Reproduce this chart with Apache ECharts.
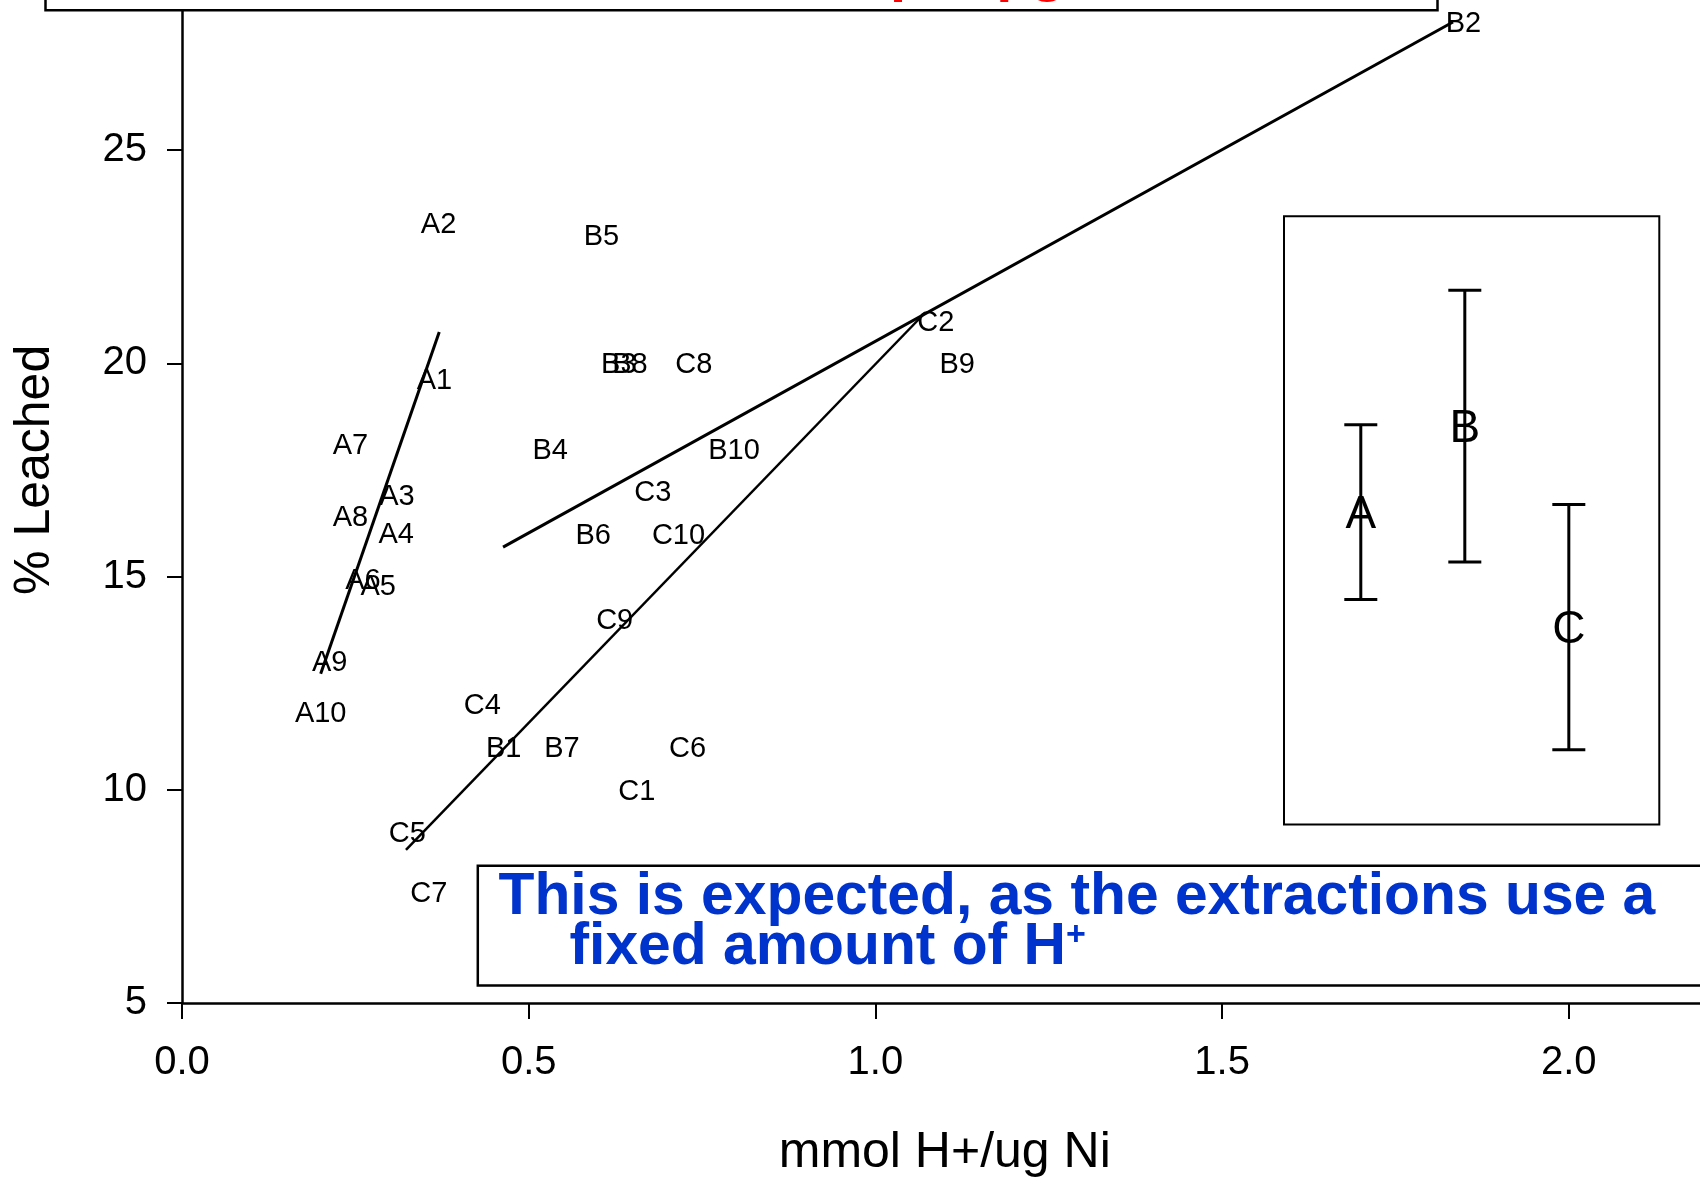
<!DOCTYPE html>
<html><head><meta charset="utf-8">
<script src="https://cdn.jsdelivr.net/npm/echarts/dist/echarts.min.js"></script>
<style>html,body{margin:0;padding:0;background:#fff}#c{width:1700px;height:1179px}</style>
</head><body><div id="c"></div>
<script>
// ---- data ----
const namesA = ['A1','A2','A3','A4','A5','A6','A7','A8','A9','A10'];
const xA = [0.364, 0.370, 0.310, 0.309, 0.283, 0.261, 0.243, 0.243, 0.213, 0.200];
const yA = [19.62, 23.30, 16.90, 16.03, 14.80, 14.95, 18.10, 16.42, 13.01, 11.83];

const namesB = ['B1','B2','B3','B4','B5','B6','B7','B8','B9','B10'];
const xB = [0.464, 1.848, 0.630, 0.531, 0.605, 0.593, 0.548, 0.646, 1.118, 0.796];
const yB = [11.0, 28.0, 20.0, 18.0, 23.0, 16.0, 11.0, 20.0, 20.0, 18.0];

const namesC = ['C1','C2','C3','C4','C5','C6','C7','C8','C9','C10'];
const xC = [0.656, 1.087, 0.679, 0.433, 0.325, 0.729, 0.356, 0.738, 0.624, 0.716];
const yC = [10.0, 21.0, 17.0, 12.0, 9.0, 11.0, 7.6, 20.0, 14.0, 16.0];

// regression line end points (x, y)
const fitA = [[0.200, 12.72], [0.371, 20.73]];
const fitB = [[0.463, 15.69], [1.833, 28.00]];
const fitC = [[0.323, 8.59], [1.072, 21.19]];

// inset: group means with error bars
const insetGroups = ['A', 'B', 'C'];
const insetX = [1.70, 1.85, 2.00];
const insetMean = [16.51, 18.53, 13.82];
const insetLow = [14.46, 15.34, 10.94];
const insetHigh = [18.56, 21.71, 16.69];

const xTickLabels = ['0.0', '0.5', '1.0', '1.5', '2.0'];
const yTickLabels = ['5', '10', '15', '20', '25', '30'];

// ---- chart ----
const FONT = '"Liberation Sans", Arial, Helvetica, sans-serif';
const textSeries = (names, xs, ys, size, z) => ({
  type: 'custom', silent: true, z: z,
  data: names.map((n, i) => [xs[i], ys[i], i]),
  encode: { x: 0, y: 1 },
  renderItem: function (params, api) {
    const p = api.coord([api.value(0), api.value(1)]);
    return { type: 'text', x: p[0], y: p[1] + size * 0.07,
      style: { text: names[api.value(2)], fill: '#000', fontSize: size, fontFamily: FONT,
               align: 'center', verticalAlign: 'middle' } };
  }
});
const lineSeries = (d, w) => ({
  type: 'line', data: d, symbol: 'none', silent: true, z: 4,
  lineStyle: { color: '#000', width: w }
});

const chart = echarts.init(document.getElementById('c'), null, { renderer: 'canvas' });
chart.setOption({
  animation: false,
  backgroundColor: '#fff',
  grid: { left: 182, top: -63.25, width: 1525.5, height: 1066.25,
          containLabel: false, outerBoundsMode: 'none' },
  xAxis: {
    type: 'value', min: 0, max: 2.2, interval: 0.5,
    name: 'mmol H+/ug Ni', nameLocation: 'middle', nameGap: 125,
    nameTextStyle: { fontSize: 50, fontFamily: FONT, color: '#000' },
    axisLine: { onZero: false, lineStyle: { color: '#000', width: 2.5 } },
    axisTick: { inside: false, length: 16, lineStyle: { color: '#000', width: 2 } },
    axisLabel: { fontSize: 40, fontFamily: FONT, color: '#000', margin: 40, showMaxLabel: false,
                 formatter: v => xTickLabels[Math.round(v / 0.5)] || '' },
    splitLine: { show: false }
  },
  yAxis: {
    type: 'value', min: 5, max: 30, interval: 5,
    name: '% Leached', nameLocation: 'middle', nameGap: 122,
    nameTextStyle: { fontSize: 50, fontFamily: FONT, color: '#000' },
    axisLine: { onZero: false, lineStyle: { color: '#000', width: 2.5 } },
    axisTick: { inside: false, length: 15, lineStyle: { color: '#000', width: 2 } },
    axisLabel: { fontSize: 40, fontFamily: FONT, color: '#000', margin: 35,
                 formatter: v => yTickLabels[Math.round((v - 5) / 5)] || '' },
    splitLine: { show: false }
  },
  series: [
    lineSeries(fitA, 3),
    lineSeries(fitB, 3),
    lineSeries(fitC, 2.5),
    textSeries(namesA, xA, yA, 29, 5),
    textSeries(namesB, xB, yB, 29, 5),
    textSeries(namesC, xC, yC, 29, 5),
    {
      type: 'custom', silent: true, z: 6,
      data: insetX.map((x, i) => [x, insetLow[i], insetHigh[i]]),
      encode: { x: 0, y: [1, 2] },
      renderItem: function (params, api) {
        const x = api.value(0), lo = api.value(1), hi = api.value(2);
        const t = api.coord([x, hi]), b = api.coord([x, lo]);
        const hw = 16.5, st = { stroke: '#000', lineWidth: 3 };
        return { type: 'group', children: [
          { type: 'line', shape: { x1: t[0], y1: t[1], x2: b[0], y2: b[1] }, style: st },
          { type: 'line', shape: { x1: t[0] - hw, y1: t[1], x2: t[0] + hw, y2: t[1] }, style: st },
          { type: 'line', shape: { x1: b[0] - hw, y1: b[1], x2: b[0] + hw, y2: b[1] }, style: st }
        ] };
      }
    },
    textSeries(insetGroups, insetX, insetMean, 46, 7)
  ],
  graphic: [
    { type: 'rect', z: 100, shape: { x: 45.5, y: -300, width: 1392, height: 310.3 },
      style: { fill: '#fff', stroke: '#000', lineWidth: 2.5 } },
    { type: 'text', z: 101,
      style: { text: '% Leached\nrises with mmol H+ per \u00b5g Ni', x: 741.6, y: -1.5,
               align: 'center', verticalAlign: 'bottom', lineHeight: 50,
               fontSize: 58, fontWeight: 'bold', fontFamily: FONT, fill: '#ff0000' } },
    { type: 'rect', z: 100, shape: { x: 477.8, y: 865.8, width: 1400, height: 119.7 },
      style: { fill: '#fff', stroke: '#000', lineWidth: 2.5 } },
    { type: 'text', z: 101,
      style: { text: 'This is expected, as the extractions use a', x: 498.5, y: 898,
               align: 'left', verticalAlign: 'middle',
               fontSize: 58.8, fontWeight: 'bold', fontFamily: FONT, fill: '#0033cc' } },
    { type: 'text', z: 101,
      style: { text: '{a|fixed amount of H}{s|+}', x: 569.5, y: 948,
               align: 'left', verticalAlign: 'middle',
               rich: {
                 a: { fontSize: 58.8, fontWeight: 'bold', fontFamily: FONT, fill: '#0033cc', lineHeight: 59 },
                 s: { fontSize: 34, fontWeight: 'bold', fontFamily: FONT, fill: '#0033cc', verticalAlign: 'top', lineHeight: 34 }
               } } },
    { type: 'rect', z: 99, shape: { x: 1284, y: 216.3, width: 375.3, height: 608.2 },
      style: { fill: 'none', stroke: '#000', lineWidth: 2 } }
  ]
});
</script></body></html>
